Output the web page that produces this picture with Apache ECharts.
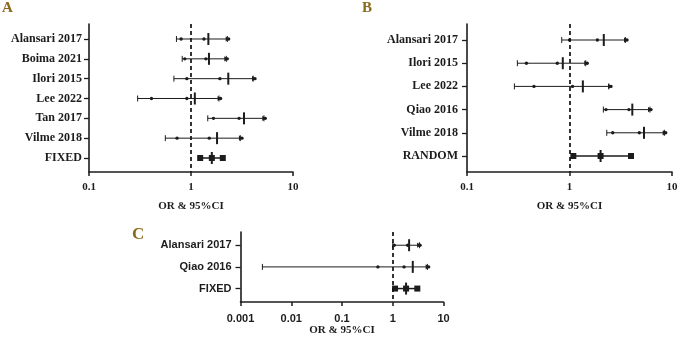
<!DOCTYPE html>
<html>
<head>
<meta charset="utf-8">
<script src="https://cdn.jsdelivr.net/npm/echarts@6/dist/echarts.min.js"></script>
<style>
  html, body { margin: 0; padding: 0; background: #fff; }
  #chart { width: 682px; height: 349px; }
</style>
</head>
<body>
<div id="chart"></div>
<script>
// Panel A (fixed effect)
const studiesA = ["Alansari 2017", "Boima 2021", "Ilori 2015", "Lee 2022", "Tan 2017", "Vilme 2018", "FIXED"];
const ciLowA   = [0.80, 0.87, 0.91, 0.41, 1.66, 0.73, 1.23];
const orA      = [1.34, 1.40, 1.92, 0.91, 2.96, 1.51, 1.60];
const ciHighA  = [2.34, 2.27, 4.24, 1.95, 5.35, 3.16, 2.05];
const meanA    = [1.48, 1.50, 2.32, 1.09, 3.31, 1.80, 1.60];
const barLowA  = [0.72, 0.82, 0.68, 0.30, 1.46, 0.56, 1.23];
const barHighA = [2.27, 2.22, 4.07, 1.88, 5.19, 3.04, 2.05];

// Panel B (random effect)
const studiesB = ["Alansari 2017", "Ilori 2015", "Lee 2022", "Qiao 2016", "Vilme 2018", "RANDOM"];
const ciLowB   = [1.00, 0.38, 0.45, 2.27, 2.64, 1.09];
const orB      = [1.87, 0.76, 1.07, 3.80, 4.80, 2.01];
const ciHighB  = [3.64, 1.49, 2.54, 6.24, 8.68, 3.98];
const meanB    = [2.16, 0.86, 1.35, 4.10, 5.33, 2.01];
const barLowB  = [0.84, 0.31, 0.29, 2.14, 2.31, 1.09];
const barHighB = [3.51, 1.44, 2.42, 6.10, 8.43, 3.98];

// Panel C (fixed effect)
const studiesC = ["Alansari 2017", "Qiao 2016", "FIXED"];
const ciLowC   = [1.07, 0.51, 1.11];
const orC      = [1.97, 1.67, 1.83];
const ciHighC  = [3.45, 5.10, 3.05];
const meanC    = [2.10, 2.48, 1.83];
const barLowC  = [1.00, 0.0027, 1.11];
const barHighC = [3.36, 4.82, 3.05];

const INK = '#1c1c1c';
const SERIF = '"Liberation Serif", "DejaVu Serif", serif';
const SANS = '"Liberation Sans", Arial, sans-serif';

function rows(names, lo, or, hi, mean, bLo, bHi) {
  return names.map((n, i) => [i, bLo[i], lo[i], or[i], hi[i], mean[i], bHi[i], i === names.length - 1 ? 1 : 0]);
}

function renderRow(params, api) {
  const y = api.value(0);
  const pt = v => api.coord([v, y]);
  const pooled = api.value(7) === 1;
  const stroke = { stroke: INK, lineWidth: 1 };
  const kids = [];
  const a = pt(api.value(1)), b = pt(api.value(6));
  kids.push({ type: 'line', shape: { x1: a[0], y1: a[1], x2: b[0], y2: b[1] }, style: { stroke: INK, lineWidth: pooled ? 1.5 : 1 } });
  if (pooled) {
    [2, 3, 4].forEach(k => {
      const p = pt(api.value(k));
      kids.push({ type: 'rect', shape: { x: p[0] - 3, y: p[1] - 3, width: 6, height: 6 }, style: { fill: INK } });
    });
  } else {
    [a, b].forEach(p => {
      kids.push({ type: 'line', shape: { x1: p[0], y1: p[1] - 3, x2: p[0], y2: p[1] + 3 }, style: stroke });
    });
    [2, 3, 4].forEach(k => {
      const p = pt(api.value(k));
      kids.push({ type: 'circle', shape: { cx: p[0], cy: p[1], r: 1.7 }, style: { fill: INK } });
    });
    const e = pt(api.value(4));
    kids.push({ type: 'polygon', shape: { points: [[e[0] + 1, e[1]], [e[0] - 3, e[1] - 2.6], [e[0] - 3, e[1] + 2.6]] }, style: { fill: INK } });
  }
  const m = pt(api.value(5));
  kids.push({ type: 'line', shape: { x1: m[0], y1: m[1] - 6, x2: m[0], y2: m[1] + 6 }, style: { stroke: INK, lineWidth: 2 } });
  return { type: 'group', children: kids };
}

function fmtTick(v) {
  return String(Number(v.toPrecision(6)));
}

function xAxis(grid, min, max, font, margin, gap) {
  return {
    type: 'log', logBase: 10, gridIndex: grid, min: min, max: max,
    name: 'OR & 95%CI', nameLocation: 'middle', nameGap: gap,
    nameTextStyle: { fontFamily: SERIF, fontWeight: 'bold', fontSize: 11, color: INK },
    axisLine: { onZero: false, lineStyle: { color: INK, width: 1.6 } },
    axisTick: { length: 4, lineStyle: { color: INK, width: 1.5 } },
    axisLabel: { fontFamily: font, fontWeight: 'bold', fontSize: 11, color: INK, margin: margin, formatter: fmtTick },
    splitLine: { show: false }, minorTick: { show: false }
  };
}

function yAxis(grid, names, min, max, font, margin) {
  const idx = names.map((n, i) => i);
  return {
    type: 'value', gridIndex: grid, min: min, max: max, inverse: true,
    axisLine: { show: true, lineStyle: { color: INK, width: 1.6 } },
    axisTick: { show: true, length: 5, customValues: idx, lineStyle: { color: INK, width: 1.3 } },
    axisLabel: { customValues: idx, fontFamily: font, fontWeight: 'bold', fontSize: 12, color: INK, margin: margin,
                 formatter: v => names[Math.round(v)] },
    splitLine: { show: false }
  };
}

function panelSeries(i, data) {
  return [
    {
      type: 'custom', xAxisIndex: i, yAxisIndex: i, renderItem: renderRow,
      encode: { x: [1, 2, 3, 4, 5, 6], y: 0 }, data: data, silent: true
    },
    {
      type: 'line', xAxisIndex: i, yAxisIndex: i, data: [], silent: true,
      markLine: {
        silent: true, symbol: 'none', label: { show: false },
        lineStyle: { color: '#111', width: 1.7, type: [4, 3] },
        data: [{ xAxis: 1 }]
      }
    }
  ];
}

const chart = echarts.init(document.getElementById('chart'));
const yC = yAxis(2, studiesC, -0.61, 2.62, SANS, 9);
yC.axisLabel.fontSize = 11;

chart.setOption({
  animation: false,
  backgroundColor: '#fff',
  grid: [
    { left: 89, top: 24, width: 204, height: 148, outerBoundsMode: 'none' },
    { left: 467, top: 24, width: 205, height: 148, outerBoundsMode: 'none' },
    { left: 240.5, top: 232, width: 203, height: 70, outerBoundsMode: 'none' }
  ],
  xAxis: [
    xAxis(0, 0.1, 10, SERIF, 10, 29),
    xAxis(1, 0.1, 10, SERIF, 10, 29),
    xAxis(2, 0.001, 10, SANS, 11, 22)
  ],
  yAxis: [
    yAxis(0, studiesA, -0.756, 6.706, SERIF, 7),
    yAxis(1, studiesB, -0.69, 5.69, SERIF, 9),
    yC
  ],
  graphic: [
    { type: 'text', left: 2, top: 1, style: { text: 'A', font: 'bold 15px ' + SERIF, fill: '#8a6a1c' } },
    { type: 'text', left: 362, top: 1, style: { text: 'B', font: 'bold 15px ' + SERIF, fill: '#8a6a1c' } },
    { type: 'text', left: 132, top: 226, style: { text: 'C', font: 'bold 17px ' + SERIF, fill: '#8a6a1c' } }
  ],
  series: [
    ...panelSeries(0, rows(studiesA, ciLowA, orA, ciHighA, meanA, barLowA, barHighA)),
    ...panelSeries(1, rows(studiesB, ciLowB, orB, ciHighB, meanB, barLowB, barHighB)),
    ...panelSeries(2, rows(studiesC, ciLowC, orC, ciHighC, meanC, barLowC, barHighC))
  ]
});
</script>
</body>
</html>
